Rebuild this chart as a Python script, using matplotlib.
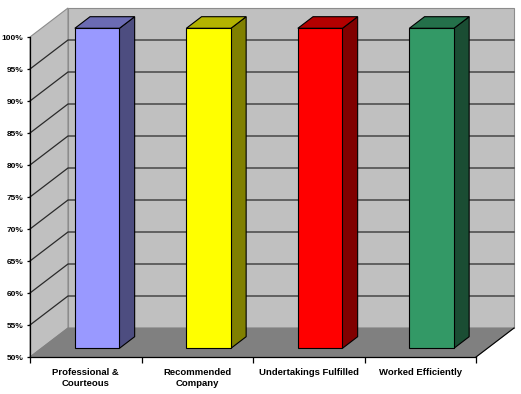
import matplotlib
matplotlib.use("Agg")
import matplotlib.pyplot as plt
from matplotlib.ticker import FixedLocator, FuncFormatter

categories = ["Professional &\nCourteous", "Recommended\nCompany", "Undertakings Fulfilled", "Worked Efficiently"]
values = [100, 100, 100, 100]
front_colors = ["#9999FF", "#FFFF00", "#FF0000", "#339966"]
top_colors = ["#6B6BB3", "#B3B300", "#B30000", "#24704A"]
side_colors = ["#4D4D80", "#808000", "#800000", "#1A4D33"]
yticks = [50, 55, 60, 65, 70, 75, 80, 85, 90, 95, 100]

plt.rcParams['font.family'] = ['Liberation Sans', 'DejaVu Sans']

W, H = 521, 394
fig = plt.figure(figsize=(W / 100, H / 100), dpi=100)
ax = fig.add_axes([30 / W, (H - 357) / H, (476 - 30) / W, (357 - 37) / H])
ymin, ymax = 50, 100
n = len(categories)
ax.set_xlim(0, n)
ax.set_ylim(ymin, ymax)

# depth offset in data units
DX = 38 / ((476 - 30) / n)
DY = 29 / ((357 - 37) / (ymax - ymin))

wall = "#C0C0C0"
floor = "#808080"
edge = "#8C8C8C"
# left wall
ax.fill([0, 0, DX, DX], [ymin, ymax, ymax + DY, ymin + DY], color=wall, ec=edge, lw=0.8, clip_on=False, zorder=1)
# back wall
ax.fill([DX, DX, n + DX, n + DX], [ymin + DY, ymax + DY, ymax + DY, ymin + DY], color=wall, ec=edge, lw=0.8, clip_on=False, zorder=1)
# floor
ax.fill([0, n, n + DX, DX], [ymin, ymin, ymin + DY, ymin + DY], color=floor, ec=floor, lw=0.8, clip_on=False, zorder=1)
ax.plot([n, n + DX], [ymin, ymin + DY], color="black", lw=0.8, clip_on=False, zorder=2)

# gridlines
for v in yticks[1:-1]:
    ax.plot([0, DX, n + DX], [v, v + DY, v + DY], color="#2a2a2a", lw=0.9, clip_on=False, zorder=2)

# bars
z0, z1 = 0.3, 0.7
bw = 0.4
for i, (v, fc, tc, sc) in enumerate(zip(values, front_colors, top_colors, side_colors)):
    xc = i + 0.5
    x0, x1 = xc - bw / 2, xc + bw / 2
    # side
    ax.fill([x1 + z0 * DX, x1 + z0 * DX, x1 + z1 * DX, x1 + z1 * DX],
            [ymin + z0 * DY, v + z0 * DY, v + z1 * DY, ymin + z1 * DY],
            color=sc, ec="black", lw=0.8, clip_on=False, zorder=3)
    # top
    ax.fill([x0 + z0 * DX, x1 + z0 * DX, x1 + z1 * DX, x0 + z1 * DX],
            [v + z0 * DY, v + z0 * DY, v + z1 * DY, v + z1 * DY],
            color=tc, ec="black", lw=0.8, clip_on=False, zorder=3)
    # front
    ax.bar(xc + z0 * DX, v - ymin, bottom=ymin + z0 * DY, width=bw, color=fc,
           edgecolor="black", linewidth=0.8, clip_on=False, zorder=4)

for s in ["top", "right"]:
    ax.spines[s].set_visible(False)
for s in ["left", "bottom"]:
    ax.spines[s].set_color("black")
    ax.spines[s].set_linewidth(0.9)
    ax.spines[s].set_zorder(5)

ax.yaxis.set_major_locator(FixedLocator(yticks))
ax.yaxis.set_major_formatter(FuncFormatter(lambda v, p: f"{int(v)}%"))
ax.tick_params(axis="y", length=2.3, width=0.9, pad=2.6, labelsize=6.0)
for t in ax.get_yticklabels():
    t.set_fontweight("bold")

ax.xaxis.set_major_locator(FixedLocator(list(range(n + 1))))
ax.xaxis.set_minor_locator(FixedLocator([i + 0.5 for i in range(n)]))
ax.set_xticklabels([""] * (n + 1))
ax.set_xticklabels(categories, minor=True, fontweight="bold", fontsize=6.8, linespacing=1.3)
ax.tick_params(axis="x", which="major", length=4, width=0.9)
ax.tick_params(axis="x", which="minor", length=0, pad=8)
ax.set_facecolor("none")

fig.savefig("out.png", dpi=100, facecolor="white")
